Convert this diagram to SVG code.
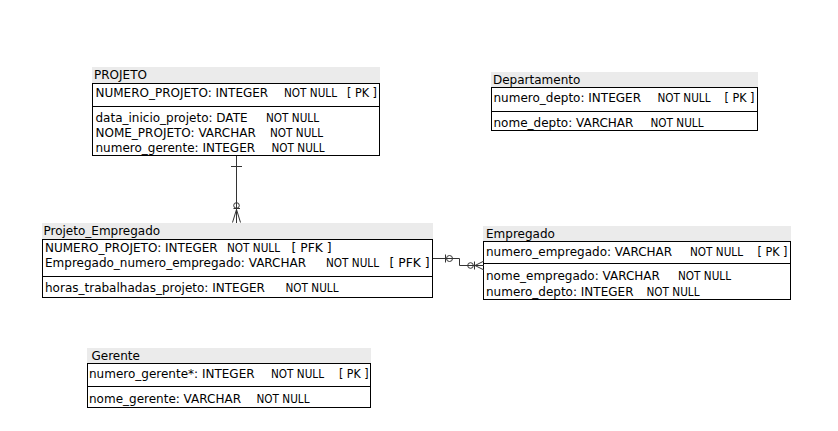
<svg xmlns="http://www.w3.org/2000/svg" width="838" height="431" viewBox="0 0 838 431">
<style>
text{font-family:"DejaVu Sans","Liberation Sans",sans-serif;font-size:12px;fill:#000;white-space:pre}
.hdr{fill:#ebebeb;stroke:none}
.box{fill:#fff;stroke:#000;stroke-width:1}
.div{stroke:#000;stroke-width:1;fill:none}
.cn{stroke:#333;stroke-width:1;fill:none}
</style>
<rect width="838" height="431" fill="#fff"/>
<g id="PROJETO">
<rect class="hdr" x="92" y="67" width="288" height="16"/>
<text x="94" y="79">PROJETO</text>
<rect class="box" x="92.5" y="83.5" width="287" height="72"/>
<line class="div" x1="92.5" y1="106.5" x2="379.5" y2="106.5"/>
<text x="95.5" y="97" xml:space="preserve"><tspan>NUMERO_PROJETO: INTEGER   </tspan><tspan x="284" textLength="53" lengthAdjust="spacingAndGlyphs">NOT NULL</tspan><tspan>  </tspan><tspan x="347" textLength="30" lengthAdjust="spacingAndGlyphs">[ PK ]</tspan></text>
<text x="95.5" y="122" xml:space="preserve"><tspan>data_inicio_projeto: DATE   </tspan><tspan x="266" textLength="53" lengthAdjust="spacingAndGlyphs">NOT NULL</tspan></text>
<text x="95.5" y="137" xml:space="preserve"><tspan>NOME_PROJETO: VARCHAR   </tspan><tspan x="270" textLength="53" lengthAdjust="spacingAndGlyphs">NOT NULL</tspan></text>
<text x="95.5" y="152" xml:space="preserve"><tspan>numero_gerente: INTEGER   </tspan><tspan x="271.5" textLength="53" lengthAdjust="spacingAndGlyphs">NOT NULL</tspan></text>
</g>
<g id="Departamento">
<rect class="hdr" x="491" y="72" width="267" height="16"/>
<text x="493" y="84">Departamento</text>
<rect class="box" x="491.5" y="87.5" width="266" height="43"/>
<line class="div" x1="491.5" y1="111.5" x2="757.5" y2="111.5"/>
<text x="493.5" y="102" xml:space="preserve"><tspan>numero_depto: INTEGER   </tspan><tspan x="657.5" textLength="53" lengthAdjust="spacingAndGlyphs">NOT NULL</tspan><tspan>  </tspan><tspan x="724.5" textLength="30" lengthAdjust="spacingAndGlyphs">[ PK ]</tspan></text>
<text x="493.5" y="127" xml:space="preserve"><tspan>nome_depto: VARCHAR   </tspan><tspan x="650.5" textLength="53" lengthAdjust="spacingAndGlyphs">NOT NULL</tspan></text>
</g>
<g id="Projeto_Empregado">
<rect class="hdr" x="42" y="223" width="391" height="16"/>
<text x="43.5" y="235">Projeto_Empregado</text>
<rect class="box" x="42.5" y="239.5" width="390" height="58"/>
<line class="div" x1="42.5" y1="276.5" x2="432.5" y2="276.5"/>
<text x="45" y="252" xml:space="preserve"><tspan>NUMERO_PROJETO: INTEGER   </tspan><tspan x="227" textLength="53" lengthAdjust="spacingAndGlyphs">NOT NULL</tspan><tspan>  </tspan><tspan x="291.5" textLength="40" lengthAdjust="spacingAndGlyphs">[ PFK ]</tspan></text>
<text x="45" y="267" xml:space="preserve"><tspan>Empregado_numero_empregado: VARCHAR   </tspan><tspan x="326" textLength="53" lengthAdjust="spacingAndGlyphs">NOT NULL</tspan><tspan>  </tspan><tspan x="389.5" textLength="40" lengthAdjust="spacingAndGlyphs">[ PFK ]</tspan></text>
<text x="45" y="292" xml:space="preserve"><tspan>horas_trabalhadas_projeto: INTEGER   </tspan><tspan x="285.5" textLength="53" lengthAdjust="spacingAndGlyphs">NOT NULL</tspan></text>
</g>
<g id="Empregado">
<rect class="hdr" x="483" y="226" width="308" height="16"/>
<text x="486" y="238">Empregado</text>
<rect class="box" x="483.5" y="241.5" width="307" height="58"/>
<line class="div" x1="483.5" y1="263.5" x2="790.5" y2="263.5"/>
<text x="486" y="256" xml:space="preserve"><tspan>numero_empregado: VARCHAR   </tspan><tspan x="690" textLength="53" lengthAdjust="spacingAndGlyphs">NOT NULL</tspan><tspan>  </tspan><tspan x="757.5" textLength="30" lengthAdjust="spacingAndGlyphs">[ PK ]</tspan></text>
<text x="486" y="280" xml:space="preserve"><tspan>nome_empregado: VARCHAR   </tspan><tspan x="678" textLength="53" lengthAdjust="spacingAndGlyphs">NOT NULL</tspan></text>
<text x="486" y="296" xml:space="preserve"><tspan>numero_depto: INTEGER   </tspan><tspan x="646.5" textLength="53" lengthAdjust="spacingAndGlyphs">NOT NULL</tspan></text>
</g>
<g id="Gerente">
<rect class="hdr" x="87" y="348" width="284" height="15"/>
<text x="91.5" y="360">Gerente</text>
<rect class="box" x="87.5" y="363.5" width="283" height="44"/>
<line class="div" x1="87.5" y1="386.5" x2="370.5" y2="386.5"/>
<text x="89" y="378" xml:space="preserve"><tspan>numero_gerente*: INTEGER   </tspan><tspan x="271" textLength="53" lengthAdjust="spacingAndGlyphs">NOT NULL</tspan><tspan>  </tspan><tspan x="339" textLength="29.5" lengthAdjust="spacingAndGlyphs">[ PK ]</tspan></text>
<text x="89" y="403" xml:space="preserve"><tspan>nome_gerente: VARCHAR   </tspan><tspan x="256.5" textLength="53" lengthAdjust="spacingAndGlyphs">NOT NULL</tspan></text>
</g>
<g id="connectors">
<g id="rel_projeto_pe">
<path class="cn" d="M236.5 156 V223"/>
<path class="cn" d="M231 166.5 H242"/>
<circle class="cn" cx="236.5" cy="205.5" r="2.8"/>
<path class="cn" d="M233.5 208.5 H240"/>
<path class="cn" d="M236.5 209.5 L232.5 222.5 M236.5 209.5 L240.5 222.5"/>
</g>
<g id="rel_pe_empregado">
<path class="cn" d="M433 258.5 H459.5 V265.5 H484"/>
<path class="cn" d="M445.5 254.5 V262.5"/>
<circle class="cn" cx="449.5" cy="258.5" r="3"/>
<circle class="cn" cx="470.5" cy="265.5" r="2.8"/>
<path class="cn" d="M474.5 261.5 V269.5"/>
<path class="cn" d="M475 265.5 L484 261 M475 265.5 L484 270"/>
</g>
</g>
</svg>
